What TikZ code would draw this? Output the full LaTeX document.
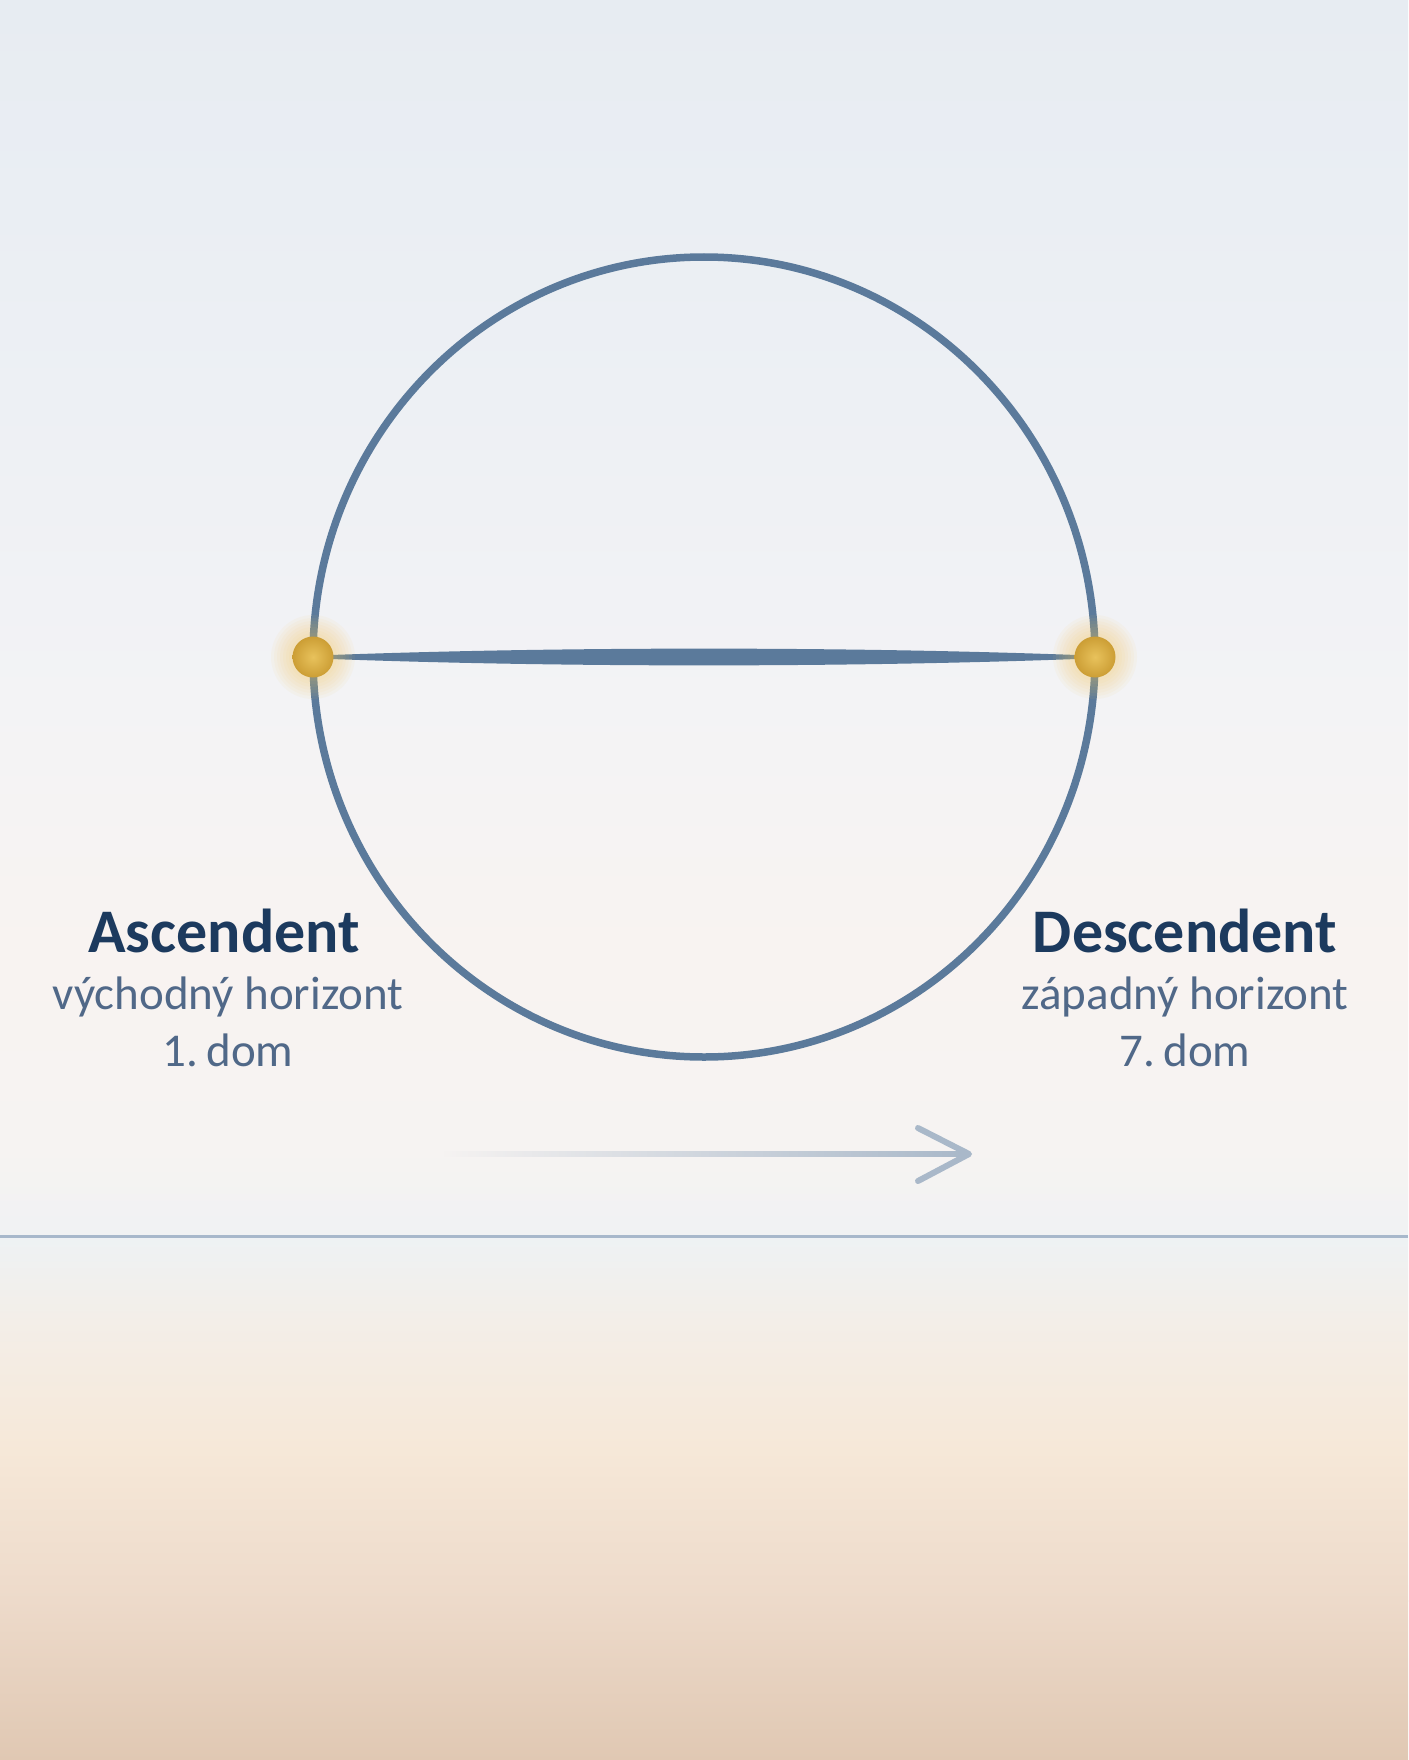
\documentclass[tikz,border=0pt]{standalone}
\usepackage{fontspec}
\setmainfont{Carlito}
\usetikzlibrary{calc,fadings}
\definecolor{bgA}{HTML}{E7ECF2}
\definecolor{bgB}{HTML}{EDF0F4}
\definecolor{bgC}{HTML}{F3F3F5}
\definecolor{bgD}{HTML}{F8F3F1}
\definecolor{bgE}{HTML}{F6F3F2}
\definecolor{bgF}{HTML}{F0F2F3}
\definecolor{bgG}{HTML}{EEF2F4}
\definecolor{bgH}{HTML}{F3EEE8}
\definecolor{bgI}{HTML}{F6E8D8}
\definecolor{bgJ}{HTML}{EDDACA}
\definecolor{bgK}{HTML}{E0C8B3}
\definecolor{ringcol}{HTML}{5B7A9B}
\definecolor{navy}{HTML}{1C3A5E}
\definecolor{subcol}{HTML}{506888}
\definecolor{arrowcol}{HTML}{A9B8C9}
\definecolor{horcol}{HTML}{A7B8CB}
\definecolor{goldin}{HTML}{E8C25C}
\definecolor{goldout}{HTML}{CC9E35}
\definecolor{glowcol}{HTML}{F2C65A}
\tikzfading[name=arrowfade, left color=transparent!100, right color=transparent!0]
\begin{document}
\begin{tikzpicture}[x=1pt,y=-1pt,
  dot/.style={circle,inner sep=0pt,minimum size=41pt,inner color=goldin,outer color=goldout},
  title/.style={font=\fontsize{62}{70}\selectfont\bfseries,text=navy,anchor=base,inner sep=0pt},
  sub/.style={font=\fontsize{47}{54}\selectfont,text=subcol,anchor=base,inner sep=0pt}]
\useasboundingbox (0,0) rectangle (1408,1760);
% background
\shade[top color=bgA,bottom color=bgB] (0,0) rectangle (1408,401);
\shade[top color=bgB,bottom color=bgC] (0,400) rectangle (1408,701);
\shade[top color=bgC,bottom color=bgD] (0,700) rectangle (1408,951);
\shade[top color=bgD,bottom color=bgE] (0,950) rectangle (1408,1151);
\shade[top color=bgE,bottom color=bgF] (0,1150) rectangle (1408,1237);
\shade[top color=bgG,bottom color=bgH] (0,1236) rectangle (1408,1321);
\shade[top color=bgH,bottom color=bgI] (0,1320) rectangle (1408,1451);
\shade[top color=bgI,bottom color=bgJ] (0,1450) rectangle (1408,1601);
\shade[top color=bgJ,bottom color=bgK] (0,1600) rectangle (1408,1760);
% horizon
\coordinate (hL) at (0,1236);
\coordinate (hR) at (1408,1236);
\draw[horcol,line width=3pt] (hL) -- (hR);
% ring
\coordinate (ctr) at (704,657);
\draw[ringcol,line width=7.5pt] (ctr) ellipse [x radius=391,y radius=400];
% dots positions
\coordinate (aP) at (313,657);
\coordinate (dP) at (1095,657);
% tapered line
\fill[ringcol] ($(aP)+(18,-2)$) .. controls ($(aP)+(250,-10.5)$) and ($(dP)+(-250,-10.5)$) .. ($(dP)+(-18,-2)$)
  -- ($(dP)+(-18,2)$) .. controls ($(dP)+(-250,10.5)$) and ($(aP)+(250,10.5)$) .. ($(aP)+(18,2)$) -- cycle;
% glows
\foreach \r in {42,39,36,33,30,27,24} {
  \fill[glowcol,opacity=0.06] (aP) circle (\r);
  \fill[glowcol,opacity=0.06] (dP) circle (\r);
}
\node[dot] (asc) at (aP) {};
\node[dot] (desc) at (dP) {};
% labels
\node[title] (ascT) at (224,952) {Ascendent};
\node[sub] (ascS) at (228,1009) {východný horizont};
\node[sub] (ascH) at (228,1066) {1.\hspace{0.18em}dom};
\node[title] (desT) at (1185,952) {Descendent};
\node[sub] (desS) at (1185,1009) {západný horizont};
\node[sub] (desH) at (1185,1066) {7.\hspace{0.18em}dom};
% arrow
\coordinate (aS) at (443,1154);
\coordinate (aE) at (969,1154);
\fill[arrowcol,path fading=arrowfade,fit fading=true] ($(aS)+(0,-2.8)$) rectangle ($(aE)+(-3,2.8)$);
\draw[arrowcol,line width=6pt,line cap=round,line join=round] ($(aE)+(-51,-26)$) -- (aE) -- ($(aE)+(-51,27)$);
\end{tikzpicture}
\end{document}
